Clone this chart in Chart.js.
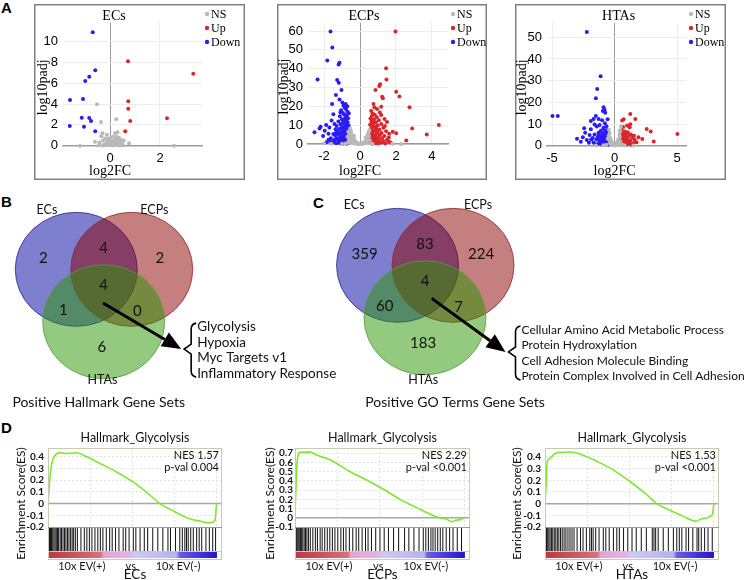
<!DOCTYPE html>
<html>
<head>
<meta charset="utf-8">
<script src="https://cdn.jsdelivr.net/npm/chart.js@4.4.1/dist/chart.umd.min.js"></script>
<style>
body{margin:0;background:#fff}
#fig{position:relative;width:747px;height:580px;overflow:hidden;background:#fff}
canvas{position:absolute}
.lbl{position:absolute;font:bold 15px "Liberation Sans",Arial,sans-serif;line-height:16px}
</style>
</head>
<body>
<div id="fig">
  <div class="lbl" style="left:1px;top:0px">A</div>
  <div class="lbl" style="left:1px;top:194px">B</div>
  <div class="lbl" style="left:313px;top:195px">C</div>
  <div class="lbl" style="left:1px;top:420px">D</div>
  <canvas id="vEC" style="left:34px;top:4px" width="211" height="176"></canvas>
  <canvas id="vECP" style="left:277px;top:4px" width="210" height="176"></canvas>
  <canvas id="vHTA" style="left:515px;top:4px" width="211" height="176"></canvas>
  <canvas id="vennB" style="left:0px;top:195px" width="340" height="222"></canvas>
  <canvas id="vennC" style="left:310px;top:195px" width="437" height="222"></canvas>
  <canvas id="gEC" style="left:0px;top:420px" width="250" height="160"></canvas>
  <canvas id="gECP" style="left:250px;top:420px" width="247" height="160"></canvas>
  <canvas id="gHTA" style="left:497px;top:420px" width="250" height="160"></canvas>
</div>
<script>
const SANS = 'Lato, "Open Sans", sans-serif';
const SERIF = '"Liberation Serif", "Times New Roman", serif';
const ARIAL = '"Liberation Sans", Arial, sans-serif';

// ---- A: volcano plots, [log2FC, -log10 padj]
const ecsNS = [[-0.52,3.98],[-0.36,2.28],[0.25,2.54],[0.76,0.23],[-1.2,0],[2.56,0],[0.27,0.87],[-0.6,0.38],
  [-0.42,0.3],[-0.35,0.9],[-0.3,1.2],[-0.28,0.5],[-0.25,0.1],[-0.2,0.7],[-0.15,0.25],[-0.12,1.05],[-0.1,0.45],
  [-0.05,0.1],[0,0.3],[0.03,0.6],[0.06,0.15],[0.1,0.35],[0.12,0.85],[0.15,0.05],[0.18,0.5],[0.2,1.2],[0.22,0.2],
  [0.25,0.65],[0.28,0.1],[0.3,1.3],[0.33,0.4],[0.36,0.75],[0.4,0.15],[0.44,0.55],[0.48,0.25],[0.52,0.05],
  [-0.45,0.05],[-0.18,0.05],[0.08,0.02],[0.35,0.02],[-0.3,0.02],[0.55,0.5],[-0.08,0.7]];
const ecsUp = [[0.72,8.11],[0.73,4.27],[0.73,3.56],[0.81,2.37],[0.61,1.38],[2.28,2.63],[3.33,6.92]];
const ecsDown = [[-0.69,10.9],[-0.59,7.25],[-0.83,6.63],[-0.99,6.22],[-1.6,4.39],[-1.08,4.49],[-1.13,2.69],
  [-0.83,2.66],[-0.76,2.37],[-1.61,1.89],[-1.04,1.83],[-0.59,1.38]];

const ecpsNS = [[-0.55,8.2],[-0.5,6.9],[-0.6,5.6],[-0.45,5.0],[-0.52,4.1],[-0.4,3.5],[-0.58,3.0],[-0.35,2.6],
  [-0.48,2.2],[-0.3,1.8],[-0.42,1.5],[-0.25,1.2],[-0.55,1.0],[-0.2,0.8],[-0.38,0.6],[-0.15,0.5],[-0.1,0.3],
  [-0.28,0.2],[-0.05,0.15],[0,0.1],[0.05,0.2],[0.1,0.35],[0.15,0.5],[0.2,0.8],[0.25,1.1],[0.3,1.5],[0.35,2.0],
  [0.4,2.6],[0.45,3.3],[0.5,4.2],[0.42,5.0],[0.48,6.1],[0.52,7.3],[0.38,1.1],[0.22,0.3],[-0.18,0.2],[-0.62,2.0],
  [-0.66,0.6],[-0.8,0.3],[-1.0,0.1],[0.6,0.2],[0.7,0.05],[-0.33,4.2],[0.32,3.4],[0.12,0.05],[-0.12,0.05],
  [-0.7,3.8],[-0.65,6.5],[0.55,2.0],[-2.0,0.2],[-1.6,0.1],[1.8,0.1],[2.3,0.05]];
const ecpsUp = [[1.97,59.8],[1.45,40.2],[1.47,34.3],[1.12,31.7],[1.07,30.8],[2.01,27.8],[2.19,25.3],[1.23,25.1],
  [1.27,24.3],[0.86,28.7],[2.75,19.5],[4.38,10.1],[2.9,8.3],[3.71,5.1],[2.57,1.8],[1.82,6.5],[2.01,5.7],[1.6,1.2],
  [0.75,21.2],[1.18,19.8],
  [0.62,17.5],[0.7,16.2],[0.82,15.6],[0.66,14.9],[0.93,14.2],[0.58,13.5],[0.77,13.0],[1.05,12.6],[0.64,12.0],
  [0.88,11.5],[0.72,11.0],[1.18,10.6],[0.56,10.2],[0.98,9.8],[0.8,9.4],[0.67,9.0],[1.3,8.7],[0.9,8.3],[0.6,8.0],
  [1.08,7.6],[0.75,7.3],[0.85,7.0],[1.45,6.8],[0.62,6.5],[0.97,6.2],[1.2,5.9],[0.7,5.6],[0.55,5.3],[0.88,5.1],
  [1.1,4.8],[0.65,4.5],[1.35,4.3],[0.79,4.0],[0.58,3.8],[1.0,3.5],[0.72,3.2],[1.22,3.0],[0.9,2.8],[0.6,2.5],
  [1.5,2.3],[0.8,2.1],[1.05,1.9],[0.68,1.7],[1.3,1.5],[0.56,1.3],[0.95,1.1],[0.75,0.9],[1.15,0.7],[0.62,0.5],
  [0.86,0.4],[1.4,0.3],[1.0,0.2],[0.7,0.15],[1.25,1.0],[1.6,3.4],[1.7,0.8],[1.36,13.3],[1.18,15.4],[1.5,11.7],
  [1.38,9.6],[0.95,18.6],[1.1,16.8],[0.54,7.1],[0.53,2.9],[1.62,5.4],[0.8,19.4]];
const ecpsDown = [[-1.64,59.8],[-1.54,51.3],[-1.82,44.4],[-1.14,43.2],[-1.19,42.3],[-2.36,34.3],[-1.27,34],
  [-1.18,32.6],[-1.03,28.7],[-1.34,26],[-1.14,23.7],[-1.55,21.2],[-2.53,6.2],[-2.25,8.3],[-2.19,9.2],[-1.88,10.1],
  [-1.96,7.0],[-2.05,4.2],[-1.75,5.5],[-1.62,3.1],[-1.7,8.8],[-1.58,12.5],[-1.48,15.8],[-1.42,10.6],
  [-0.98,22.1],[-0.92,20.4],[-0.85,19.2],[-0.78,18.6],[-1.05,18.0],[-0.7,17.1],[-0.95,16.5],[-0.88,15.7],
  [-0.74,15.2],[-1.12,14.8],[-0.81,14.1],[-0.66,13.7],[-1.01,13.2],[-0.9,12.8],[-0.76,12.3],[-1.2,12.0],
  [-0.69,11.6],[-0.96,11.2],[-0.84,10.9],[-1.08,10.5],[-0.72,10.1],[-0.63,9.8],[-1.3,9.5],[-0.9,9.2],[-0.79,8.9],
  [-1.02,8.6],[-0.67,8.3],[-1.15,8.0],[-0.86,7.7],[-0.74,7.4],[-0.95,7.1],[-0.61,6.9],[-1.25,6.6],[-1.05,6.3],
  [-0.82,6.0],[-0.7,5.8],[-0.9,5.5],[-1.18,5.2],[-0.64,5.0],[-0.77,4.7],[-1.38,4.5],[-0.99,4.3],[-0.86,4.0],
  [-0.68,3.8],[-1.1,3.6],[-0.6,3.4],[-0.93,3.2],[-1.28,3.0],[-0.75,2.8],[-1.04,2.6],[-0.84,2.4],[-0.65,2.2],
  [-1.2,2.0],[-0.97,1.8],[-0.73,1.6],[-1.45,1.5],[-0.88,1.3],[-0.62,1.1],[-1.12,1.0],[-1.0,0.8],[-0.8,0.6],
  [-0.68,0.5],[-1.33,0.4],[-0.92,0.3],[-1.06,0.2],[-0.75,0.15],[-1.22,0.6],[-0.58,0.9],[-1.55,0.7],[-1.4,2.4],
  [-1.16,4.9],[-1.32,6.1],[-0.57,4.4],[-0.6,7.5],[-0.58,2.7],[-1.36,7.8],[-1.48,5.3],[-1.62,1.2],[-1.75,2.2],
  [-1.85,0.9],[-0.71,20.0],[-0.62,16.4],[-1.09,16.9],[-0.8,21.3]];

const htasNS = [[0.5,8.8],[-0.45,7.3],[0.45,6.6],[-0.4,5.8],[0.38,5.0],[-0.48,4.6],[0.42,4.0],[-0.35,3.6],
  [0.3,3.0],[-0.3,2.6],[0.25,2.2],[-0.25,1.8],[0.2,1.5],[-0.2,1.2],[0.15,1.0],[-0.15,0.8],[0.1,0.6],[-0.1,0.5],
  [0.05,0.3],[-0.05,0.2],[0,0.1],[0.35,1.0],[-0.38,1.3],[0.45,2.0],[-0.44,2.8],[0.28,0.4],[-0.28,0.3],[0.6,0.5],
  [-0.65,0.4],[0.8,0.1],[-0.9,0.2],[1.5,0.05],[-1.5,0.1],[0.4,7.0],[-0.55,3.2]];
const htasUp = [[1.25,9.9],[1.2,8.5],[0.72,12.2],[1.25,14.6],[1.65,12.3],[0.6,11.6],[2.56,7.7],[2.88,6.5],
  [2.21,3.1],[3.12,1.9],[5.01,5.4],
  [0.55,7.0],[0.8,6.6],[1.05,6.2],[0.62,5.8],[0.9,5.5],[1.3,5.2],[0.7,4.9],[1.15,4.6],[0.5,4.3],[0.95,4.0],
  [0.78,3.7],[1.4,3.5],[0.6,3.2],[1.08,2.9],[0.85,2.6],[0.52,2.4],[1.25,2.2],[0.72,1.9],[1.0,1.7],[0.58,1.4],
  [1.5,1.3],[0.88,1.1],[1.18,0.9],[0.65,0.7],[0.95,0.5],[1.35,0.4],[0.75,0.3],[1.6,2.8],[1.75,1.6],[1.55,4.6],
  [0.45,1.0],[1.9,3.9],[0.68,8.6],[1.0,9.3]];
const htasDown = [[-2.22,52.4],[-1.12,32],[-1.39,26.2],[-1.5,21.9],[-0.88,17.7],[-0.8,16.5],[-0.94,16],[-0.75,15.2],
  [-4.96,13.7],[-4.54,13.7],[-1.5,13.7],[-1.68,12.3],[-1.9,11.4],[-1.28,12.3],[-0.56,12.2],[-1.0,11.7],
  [-2.43,8.0],[-1.9,7.6],[-1.42,8.8],[-0.88,8.3],[-2.54,3.9],[-2.22,2.6],[-1.87,2.9],[-1.68,1.5],[-2.0,4.9],[-1.28,6.0],
  [-1.2,9.5],[-0.9,7.8],[-0.6,7.2],[-1.1,6.9],[-0.75,6.5],[-0.55,6.0],[-0.98,5.8],[-0.66,5.4],[-1.25,5.1],
  [-0.84,4.9],[-0.58,4.5],[-1.05,4.3],[-0.72,4.0],[-0.92,3.7],[-0.5,3.5],[-1.18,3.3],[-0.8,3.1],[-0.62,2.8],
  [-1.0,2.6],[-0.7,2.4],[-0.88,2.1],[-0.55,1.9],[-1.12,1.7],[-0.76,1.5],[-0.95,1.3],[-0.6,1.1],[-1.3,0.9],
  [-0.82,0.8],[-0.68,0.6],[-1.02,0.5],[-0.52,0.4],[-0.9,0.3],[-1.2,2.2],[-1.35,4.0],[-1.6,5.2],[-1.75,3.6],
  [-2.05,1.4],[-1.45,2.9],[-1.55,0.8],[-0.65,9.0],[-0.78,10.4],[-1.6,9.8],[-2.35,6.0],[-3.0,3.2],[-2.7,1.8]];

// ---- B / C: venn counts  [ECs only, ECs&ECPs, ECPs only, all three, ECs&HTAs, ECPs&HTAs, HTAs only]
const vennSets = ['ECs', 'ECPs', 'HTAs'];
const hallmarkCounts = [2, 4, 2, 4, 1, 0, 6];
const goCounts = [359, 83, 224, 4, 60, 7, 183];
const hallmarkShared = ['Glycolysis', 'Hypoxia', 'Myc Targets v1', 'Inflammatory Response'];
const goShared = ['Cellular Amino Acid Metabolic Process', 'Protein Hydroxylation',
  'Cell Adhesion Molecule Binding', 'Protein Complex Involved in Cell Adhesion'];
// layout in circle-radius units
const vennCenters = [[-0.45, 0.31], [0.46, 0.31], [0, -0.61]];
const vennRadius = 1;
const regionPos = [[-0.99,0.51],[0,0.69],[0.92,0.51],[0,0.03],[-0.66,-0.40],[0.55,-0.43],[-0.03,-1.06]];

// ---- D: GSEA running enrichment score, [rank %, ES]
const esECs = [[0,0],[1.2,0.226],[2.2,0.34],[4.1,0.41],[7.1,0.435],[10,0.428],[13,0.43],[17,0.435],[22.9,0.40],
  [30.8,0.343],[40.6,0.27],[50.5,0.183],[58.4,0.096],[66.3,0],[74.2,-0.063],[82,-0.12],[90,-0.15],[95.8,-0.165],
  [98.8,-0.145],[99.8,-0.005],[100,0]];
const esECPs = [[0,0.05],[0.6,0.34],[1.4,0.63],[2.9,0.71],[5.9,0.71],[8.8,0.715],[12.7,0.68],[20.6,0.63],
  [32.4,0.50],[42.2,0.41],[52,0.31],[61.8,0.2],[71.6,0.11],[79.4,0.04],[84.3,0.004],[89.2,-0.014],[92.2,-0.043],
  [94.1,-0.03],[97.1,-0.02],[100,0.004]];
const esHTAs = [[0,0],[0.6,0.149],[1.4,0.363],[3,0.39],[5.9,0.43],[10.8,0.44],[14.8,0.443],[20.7,0.426],
  [30.6,0.363],[40.4,0.29],[50.3,0.19],[60.2,0.077],[66.1,0],[74,-0.057],[81.9,-0.109],[89.7,-0.151],
  [92.7,-0.129],[95.7,-0.123],[97.6,-0.109],[99.2,-0.086],[100,0]];
const hitsECs = [0.3,0.9,1.5,2.1,2.8,3.5,4.2,4.9,5.6,6.3,7.2,8.0,8.9,9.8,10.6,11.5,12.4,13.4,14.3,15.2,16.2,17.4,
  19.5,21.5,23.0,24.5,26.0,27.8,29.5,31.0,32.5,34.5,36.5,38.0,40.0,42.0,44.5,46.0,48.0,50.5,52.0,54.5,57.0,59.0,
  62.0,65.0,68.0,71.0,72.5,75.5,78.0,79.5,81.0,82.0,83.0,84.5,86.0,88.0,89.5,91.0,93.5,95.5,97.5,99.2];
const hitsECPs = [0.3,0.8,1.3,1.9,2.5,3.2,3.9,4.6,5.4,6.2,7.0,7.9,9.0,10.5,12.0,13.2,14.8,16.0,17.5,19.0,20.5,
  22.0,23.5,25.2,27.0,28.5,30.0,32.0,34.0,36.0,37.5,39.5,41.5,43.0,45.0,47.5,50.0,52.5,55.0,58.0,61.0,64.5,67.0,
  70.0,73.0,75.5,77.0,78.5,80.0,81.2,82.5,84.0,85.5,87.0,89.0,91.0,93.0,95.5,98.0];
const hitsHTAs = [0.3,0.9,1.6,2.3,3.0,3.8,4.6,5.5,6.4,7.3,8.2,9.2,10.2,11.3,12.4,13.6,14.8,16.0,17.2,19.0,21.0,
  22.5,24.5,26.5,27.5,28.5,30.0,32.0,34.5,36.0,38.0,40.5,42.5,44.0,46.5,49.0,51.5,54.0,57.0,60.0,63.5,64.5,65.5,
  67.0,70.0,73.0,76.0,78.0,79.5,81.0,83.5,85.0,87.5,90.0,91.0,92.5,94.5,96.5,99.0];
const esTicks = [-0.2, -0.1, 0, 0.1, 0.2, 0.3, 0.4, 0.5, 0.6, 0.7];

const C_NS = '#b9b9b9', C_UP = '#d9262a', C_DOWN = '#2a1cf2';
const pts = a => a.map(([x, y]) => ({x, y}));

// ---------- volcano
const volcanoDeco = {
  id: 'volcanoDeco',
  afterDraw(c, args, o) {
    const {ctx, chartArea: a, scales: {x}} = c;
    const x0 = x.getPixelForValue(0);
    ctx.save();
    ctx.strokeStyle = '#808080'; ctx.lineWidth = 1.5;
    ctx.strokeRect(0.75, 0.75, c.width - 1.5, c.height - 1.5);
    ctx.fillStyle = '#000'; ctx.textAlign = 'center'; ctx.textBaseline = 'middle';
    ctx.font = '14px ' + SERIF;
    ctx.fillText(o.title, x0 + 4, 12);
    ctx.fillText('log2FC', x0, c.height - 9);
    ctx.save();
    ctx.translate(o.yTitleX, (a.top + a.bottom) / 2 + 3);
    ctx.rotate(-Math.PI / 2);
    ctx.fillText('log10padj', 0, 0);
    ctx.restore();
    ctx.textAlign = 'left'; ctx.font = '12px ' + SERIF;
    c.data.datasets.forEach((d, i) => {
      const yy = a.top - 9 + i * 14;
      ctx.fillStyle = d.backgroundColor;
      ctx.beginPath(); ctx.arc(a.right + 5, yy, 2.2, 0, Math.PI * 2); ctx.fill();
      ctx.fillStyle = '#000';
      ctx.fillText(d.label, a.right + 9, yy + 1);
    });
    ctx.restore();
  }
};

function volcano(id, title, ns, up, down, g) {
  const tickFont = {family: ARIAL, size: 13};
  return new Chart(document.getElementById(id), {
    type: 'scatter',
    data: {datasets: [
      {label: 'NS', data: pts(ns), backgroundColor: C_NS, clip: false},
      {label: 'Up', data: pts(up), backgroundColor: C_UP, clip: false},
      {label: 'Down', data: pts(down), backgroundColor: C_DOWN, clip: false}
    ]},
    options: {
      responsive: false, animation: false,
      layout: {padding: {top: g.top, right: g.right, left: 0, bottom: 0}},
      elements: {point: {radius: 2, borderWidth: 0, hoverRadius: 2}},
      scales: {
        x: {type: 'linear', min: g.x[0], max: g.x[1],
          ticks: {stepSize: g.xs, includeBounds: false, color: '#000', font: tickFont, padding: 5, maxRotation: 0},
          grid: {color: t => t.tick && t.tick.value === 0 ? '#9a9a9a' : '#ededed', drawTicks: false},
          border: {display: true, color: '#9a9a9a', width: 1.5},
          afterFit(s) { s.height = g.xh; }},
        y: {min: 0, max: g.y,
          ticks: {stepSize: g.ys, includeBounds: false, color: '#000', font: tickFont, padding: 5, autoSkip: false},
          grid: {color: '#ededed', drawTicks: false},
          border: {display: false},
          afterFit(s) { s.width = g.yw; }}
      },
      plugins: {legend: {display: false}, tooltip: {enabled: false},
        volcanoDeco: {title, yTitleX: g.tx}}
    },
    plugins: [volcanoDeco]
  });
}

volcano('vEC', 'ECs', ecsNS, ecsUp, ecsDown,
  {x: [-1.88, 3.68], xs: 2, y: 11.8, ys: 2, top: 19, right: 43, yw: 29, xh: 34.3, tx: 9});
volcano('vECP', 'ECPs', ecpsNS, ecpsUp, ecpsDown,
  {x: [-2.89, 4.89], xs: 2, y: 64.3, ys: 10, top: 19, right: 39, yw: 31, xh: 36, tx: 7});
volcano('vHTA', 'HTAs', htasNS, htasUp, htasDown,
  {x: [-5.4, 5.7], xs: 5, y: 56.6, ys: 10, top: 19, right: 40, yw: 32, xh: 34.3, tx: 7});

// ---------- venn
const vennFill = ['rgba(0,0,160,0.5)', 'rgba(140,0,0,0.5)', 'rgba(40,150,0,0.5)'];
const vennEdge = ['rgba(40,40,150,0.8)', 'rgba(150,40,40,0.8)', 'rgba(80,160,60,0.8)'];

const vennDeco = {
  id: 'vennDeco',
  afterDraw(c, args, o) {
    const {ctx, scales: {x, y}} = c;
    const px = v => x.getPixelForValue(v), py = v => y.getPixelForValue(v);
    const ux = px(1) - px(0), uy = py(0) - py(1);
    ctx.save();
    vennCenters.forEach((p, i) => {
      ctx.beginPath();
      ctx.ellipse(px(p[0]), py(p[1]), ux * vennRadius, uy * vennRadius, 0, 0, Math.PI * 2);
      ctx.fillStyle = vennFill[i]; ctx.fill();
      ctx.lineWidth = 1; ctx.strokeStyle = vennEdge[i]; ctx.stroke();
    });
    ctx.fillStyle = '#111'; ctx.textAlign = 'center'; ctx.textBaseline = 'middle';
    ctx.font = '15px ' + SANS;
    o.counts.forEach((n, i) => ctx.fillText(String(n), px(regionPos[i][0]), py(regionPos[i][1])));
    ctx.font = '12.5px ' + SANS;
    vennSets.forEach((s, i) => ctx.fillText(s, px(o.names[i][0]), py(o.names[i][1])));
    ctx.font = '14px ' + SANS;
    ctx.fillText(o.caption, px(0) + o.capDx, c.height - 15);

    // arrow to the shared list
    const sx = px(o.arrow[0][0]), sy = py(o.arrow[0][1]);
    const tx = px(o.arrow[1][0]), ty = py(o.arrow[1][1]);
    const ang = Math.atan2(ty - sy, tx - sx), hl = 19, hw = 8;
    const bx = tx - hl * Math.cos(ang), by = ty - hl * Math.sin(ang);
    ctx.strokeStyle = '#000'; ctx.fillStyle = '#000'; ctx.lineWidth = 3;
    ctx.beginPath(); ctx.moveTo(sx, sy); ctx.lineTo(bx, by); ctx.stroke();
    ctx.beginPath(); ctx.moveTo(tx, ty);
    ctx.lineTo(bx + hw * Math.sin(ang), by - hw * Math.cos(ang));
    ctx.lineTo(bx - hw * Math.sin(ang), by + hw * Math.cos(ang));
    ctx.closePath(); ctx.fill();

    // bracket
    ctx.lineWidth = 1.6;
    ctx.beginPath();
    ctx.moveTo(tx + 15, ty - 26);
    ctx.quadraticCurveTo(tx + 10, ty - 25, tx + 10, ty - 20);
    ctx.lineTo(tx + 10, ty - 5);
    ctx.lineTo(tx + 3, ty);
    ctx.lineTo(tx + 10, ty + 5);
    ctx.lineTo(tx + 10, ty + 22);
    ctx.quadraticCurveTo(tx + 10, ty + 27, tx + 15, ty + 28);
    ctx.stroke();
    ctx.fillStyle = '#111'; ctx.textAlign = 'left';
    ctx.font = o.listFont + 'px ' + SANS;
    o.list.forEach((t, i) => ctx.fillText(t, tx + 16, ty - 22 + i * 15.5));
    ctx.restore();
  }
};

function venn(id, o, lim) {
  return new Chart(document.getElementById(id), {
    type: 'scatter',
    data: {datasets: [{data: pts(vennCenters), pointRadius: 0}]},
    options: {
      responsive: false, animation: false,
      layout: {padding: 0},
      scales: {x: {display: false, min: lim[0], max: lim[1]}, y: {display: false, min: lim[2], max: lim[3]}},
      plugins: {legend: {display: false}, tooltip: {enabled: false}, vennDeco: o}
    },
    plugins: [vennDeco]
  });
}

venn('vennB', {counts: hallmarkCounts, names: [[-0.93, 1.36], [0.83, 1.35], [-0.02, -1.64]],
  caption: 'Positive Hallmark Gene Sets', capDx: -5, arrow: [[-0.01, -0.28], [1.27, -1.09]],
  list: hallmarkShared, listFont: 13.5}, [-1.700, 3.874, -2.281, 1.614]);
venn('vennC', {counts: goCounts, names: [[-1.16, 1.37], [0.87, 1.37], [-0.03, -1.70]],
  caption: 'Positive GO Terms Gene Sets', capDx: 30, arrow: [[0.11, -0.27], [1.32, -1.21]],
  list: goShared, listFont: 12}, [-1.885, 5.279, -2.351, 1.544]);

// ---------- GSEA
const gseaDeco = {
  id: 'gseaDeco',
  beforeDatasetsDraw(c) {
    const {ctx, chartArea: a, scales: {y}} = c;
    const y0 = y.getPixelForValue(0);
    ctx.save(); ctx.strokeStyle = '#a8a8a8'; ctx.lineWidth = 1.5;
    ctx.beginPath(); ctx.moveTo(a.left, y0); ctx.lineTo(a.right, y0); ctx.stroke();
    ctx.restore();
  },
  afterDraw(c, args, o) {
    const {ctx, chartArea: a, scales: {x}} = c;
    const bTop = a.bottom, bBot = a.bottom + 24, gTop = bBot + 1, gBot = gTop + 6, fBot = gBot + 1;
    ctx.save();
    ctx.strokeStyle = '#111'; ctx.lineWidth = 1;
    o.hits.forEach(h => {
      const p = x.getPixelForValue(h);
      ctx.beginPath(); ctx.moveTo(p, bTop); ctx.lineTo(p, bBot); ctx.stroke();
    });
    const x0 = x.getPixelForValue(0), x1 = x.getPixelForValue(100);
    const gr = ctx.createLinearGradient(x0, 0, x1, 0);
    [[0, '#bf3540'], [0.31, '#d8707a'], [0.33, '#e6a2d4'], [0.49, '#e4b4e4'], [0.51, '#cccaf6'],
     [0.76, '#b4b2f2'], [0.78, '#6a5ce6'], [1, '#2212cc']].forEach(s => gr.addColorStop(s[0], s[1]));
    ctx.fillStyle = gr; ctx.fillRect(x0, gTop, x1 - x0, gBot - gTop);
    ctx.strokeStyle = '#c9c9b4'; ctx.lineWidth = 1;
    ctx.strokeRect(a.left + 0.5, a.top + 0.5, a.width - 1, fBot - a.top);
    ctx.beginPath(); ctx.moveTo(a.left, bBot + 0.5); ctx.lineTo(a.right, bBot + 0.5); ctx.stroke();
    ctx.strokeStyle = '#9a9a9a';
    ctx.beginPath(); ctx.moveTo(a.left, a.bottom + 0.5); ctx.lineTo(a.right, a.bottom + 0.5); ctx.stroke();

    const cx = (a.left + a.right) / 2;
    ctx.fillStyle = '#111'; ctx.textAlign = 'center'; ctx.textBaseline = 'middle';
    ctx.font = '12.5px ' + SANS;
    ctx.fillText('Hallmark_Glycolysis', cx, a.top - 10);
    ctx.textAlign = 'right'; ctx.font = '11px ' + SANS;
    ctx.fillText('NES ' + o.nes, a.right - 3, a.top + 7);
    ctx.fillText('p-val ' + o.pval, a.right - 3, a.top + 19);
    ctx.textAlign = 'center';
    ctx.fillText('10x EV(+)', x.getPixelForValue(20), fBot + 7);
    ctx.fillText('vs', x.getPixelForValue(49), fBot + 7);
    ctx.fillText('10x EV(-)', x.getPixelForValue(77), fBot + 7);
    ctx.font = '13.5px ' + SANS;
    ctx.fillText(o.group, cx, fBot + 16);
    ctx.font = '12px ' + SANS;
    ctx.save();
    ctx.translate(a.left - o.tx, (a.top + fBot) / 2);
    ctx.rotate(-Math.PI / 2);
    ctx.fillText('Enrichment Score(ES)', 0, 0);
    ctx.restore();
    ctx.restore();
  }
};

function gsea(id, es, hits, o, g) {
  const ticks = esTicks.filter(t => t >= g.y[0] - 1e-9 && t <= g.y[1]);
  return new Chart(document.getElementById(id), {
    type: 'line',
    data: {datasets: [{data: pts(es), borderColor: '#7fe82a', borderWidth: 1.6, pointRadius: 0,
      cubicInterpolationMode: 'monotone', fill: false}]},
    options: {
      responsive: false, animation: false,
      layout: {padding: {top: 28, bottom: 53, right: g.right, left: 0}},
      scales: {
        x: {type: 'linear', min: 0, max: 103, ticks: {display: false, stepSize: 25, includeBounds: false},
          grid: {color: '#e2e2e2', drawTicks: false}, border: {display: false, dash: [2, 2]}},
        y: {min: g.y[0], max: g.y[1],
          afterBuildTicks(s) { s.ticks = ticks.map(v => ({value: v})); },
          ticks: {color: '#111', font: {family: SANS, size: 10, weight: 'bold'}, padding: g.pad, autoSkip: false,
            callback: v => String(Math.round(v * 10) / 10)},
          grid: {color: t => t.tick && Math.abs(t.tick.value) < 1e-9 ? 'rgba(0,0,0,0)' : '#e2e2e2', drawTicks: false},
          border: {display: false, dash: [2, 2]},
          afterFit(s) { s.width = g.yw; }}
      },
      plugins: {legend: {display: false}, tooltip: {enabled: false}, gseaDeco: Object.assign({hits, tx: g.tx}, o)}
    },
    plugins: [gseaDeco]
  });
}

gsea('gEC', esECs, hitsECs, {nes: '1.57', pval: '0.004', group: 'ECs'},
  {y: [-0.2, 0.475], yw: 48, right: 28, pad: 4, tx: 27});
gsea('gECP', esECPs, hitsECPs, {nes: '2.29', pval: '<0.001', group: 'ECPs'},
  {y: [-0.1, 0.757], yw: 45, right: 27, pad: 2, tx: 25});
gsea('gHTA', esHTAs, hitsHTAs, {nes: '1.53', pval: '<0.001', group: 'HTAs'},
  {y: [-0.2, 0.477], yw: 48, right: 28, pad: 4, tx: 28});
</script>
</body>
</html>
